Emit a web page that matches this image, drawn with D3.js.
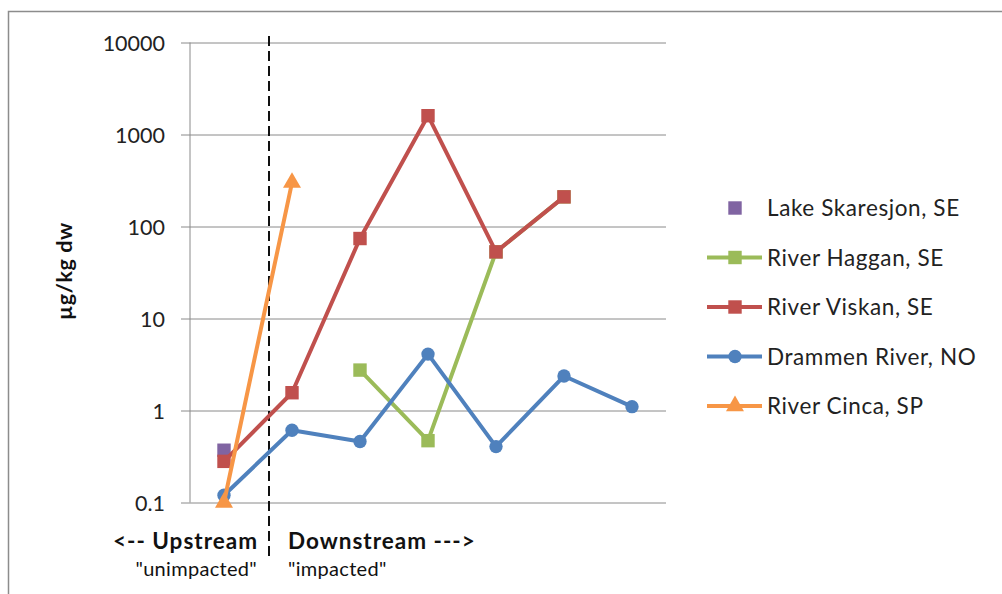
<!DOCTYPE html>
<html>
<head>
<meta charset="utf-8">
<script src="https://cdn.jsdelivr.net/npm/d3@7"></script>
<style>
  html, body { margin: 0; padding: 0; background: #fff; }
  svg { display: block; font-family: Lato, "Open Sans", sans-serif; }
</style>
</head>
<body>
<svg id="chart" width="1002" height="594"></svg>
<script>
// Sampling sites, ordered from upstream to downstream
const sites = [0, 1, 2, 3, 4, 5, 6];

// Concentrations in µg/kg dw (null = not sampled)
const lakeSkaresjon = [0.37, null, null, null, null, null, null];
const riverHaggan   = [null, null, 2.75, 0.47, 53, 210, null];
const riverViskan   = [0.28, 1.56, 74, 1600, 53, 210, null];
const drammenRiver  = [0.12, 0.61, 0.46, 4.1, 0.405, 2.37, 1.1];
const riverCinca    = [0.1, 300, null, null, null, null, null];

const seriesNames  = ["Lake Skaresjon, SE", "River Haggan, SE", "River Viskan, SE", "Drammen River, NO", "River Cinca, SP"];
const seriesColors = ["#8064A2", "#9BBB59", "#C0504D", "#4F81BD", "#F79646"];
const seriesShapes = ["square", "square", "square", "circle", "triangle"];
const seriesLines  = [false, true, true, true, true];

const yTicks      = [0.1, 1, 10, 100, 1000, 10000];
const yTickLabels = ["0.1", "1", "10", "100", "1000", "10000"];

const series = [lakeSkaresjon, riverHaggan, riverViskan, drammenRiver, riverCinca].map((vals, i) => ({
  name: seriesNames[i], color: seriesColors[i], shape: seriesShapes[i], line: seriesLines[i],
  values: vals
}));

const svg = d3.select("#chart");

// outer frame
svg.append("rect")
  .attr("x", 8.5).attr("y", 11.5).attr("width", 1010).attr("height", 600)
  .attr("fill", "none").attr("stroke", "#8c8c8c").attr("stroke-width", 1.5);

const plot = { left: 190, right: 666, top: 42.5, bottom: 502.5 };

const x = d3.scaleBand().domain(sites).range([plot.left, plot.right]);
const cx = i => x(i) + x.bandwidth() / 2;
const y = d3.scaleLog().domain([0.1, 10000]).range([plot.bottom, plot.top]);

// horizontal gridlines
const grid = svg.append("g").attr("transform", `translate(${plot.left},0)`)
  .call(d3.axisLeft(y).tickValues(yTicks).tickSize(-(plot.right - plot.left)).tickFormat(""));
grid.select(".domain").remove();
grid.selectAll("line").attr("stroke", "#8a8a8a").attr("stroke-width", 1);

// y axis with tick marks and labels
const yAxis = svg.append("g").attr("transform", `translate(${plot.left},0)`)
  .call(d3.axisLeft(y).tickValues(yTicks).tickSize(9).tickPadding(16)
    .tickFormat((d, i) => yTickLabels[i]));
yAxis.select(".domain").attr("stroke", "#8a8a8a").attr("d", `M0,${plot.top}V${plot.bottom}`);
yAxis.selectAll("line").attr("stroke", "#8a8a8a");
yAxis.selectAll("text").attr("font-size", 21.5).attr("fill", "#222")
  .attr("font-family", "Lato, sans-serif").attr("dy", "0.36em");

// y axis title
svg.append("text")
  .attr("transform", "translate(72,271) rotate(-90)")
  .attr("text-anchor", "middle").attr("font-weight", "bold").attr("font-size", 21.5)
  .attr("letter-spacing", 0.6).attr("fill", "#111").text("µg/kg dw");

// upstream / downstream divider
svg.append("line")
  .attr("x1", 269).attr("x2", 269).attr("y1", 36).attr("y2", 558)
  .attr("stroke", "#111").attr("stroke-width", 2).attr("stroke-dasharray", "10,5");

// region labels
svg.append("text").attr("x", 258).attr("y", 549).attr("text-anchor", "end")
  .attr("font-weight", "bold").attr("font-size", 22.5).attr("letter-spacing", 1)
  .attr("fill", "#111").text("<-- Upstream");
svg.append("text").attr("x", 257).attr("y", 576).attr("text-anchor", "end")
  .attr("font-size", 20).attr("letter-spacing", 0.3).attr("fill", "#111").text("\"unimpacted\"");
svg.append("text").attr("x", 288).attr("y", 549)
  .attr("font-weight", "bold").attr("font-size", 22.5).attr("letter-spacing", 1)
  .attr("fill", "#111").text("Downstream --->");
svg.append("text").attr("x", 288).attr("y", 576)
  .attr("font-size", 20).attr("letter-spacing", 0.3).attr("fill", "#111").text("\"impacted\"");

const symbolFor = shape => shape === "circle" ? d3.symbol(d3.symbolCircle, 140)
  : shape === "triangle" ? d3.symbol(d3.symbolTriangle, 140)
  : d3.symbol(d3.symbolSquare, 180);

const line = d3.line()
  .defined(d => d.v != null)
  .x(d => cx(d.i)).y(d => y(d.v));

// series: lines then markers, later series on top
series.forEach(s => {
  const pts = s.values.map((v, i) => ({ i, v }));
  const g = svg.append("g");
  if (s.line) {
    g.append("path").datum(pts).attr("d", line)
      .attr("fill", "none").attr("stroke", s.color).attr("stroke-width", 4)
      .attr("stroke-linejoin", "round").attr("stroke-linecap", "round");
  }
  g.selectAll("path.m").data(pts.filter(d => d.v != null)).join("path")
    .attr("class", "m")
    .attr("transform", d => `translate(${cx(d.i)},${y(d.v)})`)
    .attr("d", symbolFor(s.shape)).attr("fill", s.color);
});

// legend
const legend = svg.append("g");
series.forEach((s, k) => {
  const ly = 208 + k * 49.5;
  const row = legend.append("g").attr("transform", `translate(0,${ly})`);
  if (s.line) {
    row.append("line").attr("x1", 707).attr("x2", 762).attr("y1", 0).attr("y2", 0)
      .attr("stroke", s.color).attr("stroke-width", 4);
  }
  row.append("path").attr("transform", "translate(735,0)")
    .attr("d", symbolFor(s.shape)).attr("fill", s.color);
  row.append("text").attr("x", 767).attr("y", 0).attr("dy", "0.36em")
    .attr("font-size", 22.5).attr("letter-spacing", 0.6).attr("fill", "#222").text(s.name);
});
</script>
</body>
</html>
